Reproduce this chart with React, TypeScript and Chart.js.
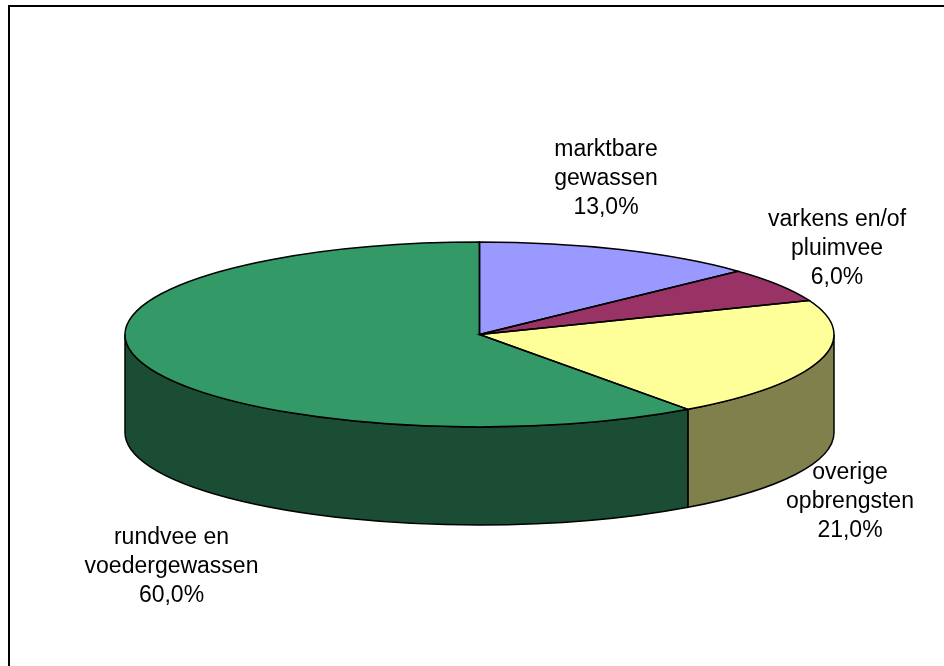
import React, { useEffect, useRef } from "react";
import { Chart, registerables } from "chart.js";

Chart.register(...registerables);

const categories = ["marktbare gewassen", "varkens en/of pluimvee", "overige opbrengsten", "rundvee en voedergewassen"];
const shares = [13.0, 6.0, 21.0, 60.0];
const topColors = ["#9999ff", "#993366", "#ffff99", "#339966"];
const sideColors = ["#4d4d80", "#4d1a33", "#80804d", "#1a4d33"];
const labelLines = [
  ["marktbare", "gewassen", "13,0%"],
  ["varkens en/of", "pluimvee", "6,0%"],
  ["overige", "opbrengsten", "21,0%"],
  ["rundvee en", "voedergewassen", "60,0%"],
];

const RX = 354.5;
const SQUASH = 92.5 / 354.5;
const DEPTH = 98;
const LABEL_ANCHORS = [
  { dx: 126.5, dy: -155.5 },
  { dx: 357.5, dy: -85.5 },
  { dx: 370.5, dy: 167.5 },
  { dx: -308, dy: 232.5 },
];
const LINE_H = 29;

const pie3d = {
  id: "pie3d",
  beforeDatasetsDraw(chart: any) {
    const ctx = chart.ctx;
    const arcs = chart.getDatasetMeta(0).data;
    const outline = () => {
      ctx.strokeStyle = "#000";
      ctx.lineWidth = 1.5;
      ctx.stroke();
    };
    // extruded side: only the front half (canvas angles 0..PI) is visible
    arcs.forEach((arc: any, i: number) => {
      const { x, y, startAngle, endAngle, outerRadius } = arc.getProps(["x", "y", "startAngle", "endAngle", "outerRadius"]);
      const ry = outerRadius * SQUASH;
      const two = Math.PI * 2;
      const spans: [number, number][] = [];
      for (const k of [-1, 0, 1]) {
        const a = Math.max(startAngle, k * two);
        const b = Math.min(endAngle, k * two + Math.PI);
        if (b > a) spans.push([a, b]);
      }
      spans.forEach(([a, b]) => {
        ctx.beginPath();
        ctx.ellipse(x, y, outerRadius, ry, 0, a, b);
        ctx.ellipse(x, y + DEPTH, outerRadius, ry, 0, b, a, true);
        ctx.closePath();
        ctx.fillStyle = sideColors[i];
        ctx.fill();
        outline();
      });
    });
    ctx.save();
    const c = arcs[0];
    ctx.translate(c.x, c.y);
    ctx.scale(1, SQUASH);
    ctx.translate(-c.x, -c.y);
  },
  afterDatasetsDraw(chart: any) {
    const ctx = chart.ctx;
    ctx.restore();
    const arcs = chart.getDatasetMeta(0).data;
    // outlines are stroked unscaled so the line width stays even
    arcs.forEach((arc: any) => {
      const { x, y, startAngle, endAngle, outerRadius } = arc.getProps(["x", "y", "startAngle", "endAngle", "outerRadius"]);
      ctx.beginPath();
      ctx.moveTo(x, y);
      ctx.ellipse(x, y, outerRadius, outerRadius * SQUASH, 0, startAngle, endAngle);
      ctx.closePath();
      ctx.strokeStyle = "#000";
      ctx.lineWidth = 1.5;
      ctx.stroke();
    });
    // data labels
    const c = arcs[0];
    ctx.save();
    ctx.fillStyle = "#000";
    ctx.font = '23px "Liberation Sans", Arial, sans-serif';
    ctx.textAlign = "center";
    ctx.textBaseline = "middle";
    labelLines.forEach((lines, i) => {
      lines.forEach((t, j) => {
        ctx.fillText(t, c.x + LABEL_ANCHORS[i].dx, c.y + LABEL_ANCHORS[i].dy + (j - 1) * LINE_H);
      });
    });
    ctx.restore();
  },
};

export default function App() {
  const ref = useRef<HTMLCanvasElement>(null);
  useEffect(() => {
    const chart = new Chart(ref.current as HTMLCanvasElement, {
      type: "pie",
      data: {
        labels: categories,
        datasets: [{ data: shares, backgroundColor: topColors, borderWidth: 0 }],
      },
      options: {
        responsive: false,
        animation: false,
        radius: RX,
        layout: { padding: { left: 15, top: 3 } },
        plugins: { legend: { display: false }, tooltip: { enabled: false }, title: { display: false } },
      } as any,
      plugins: [pie3d],
    });
    return () => chart.destroy();
  }, []);
  return (
    <div style={{ position: "fixed", inset: 0, background: "#fff", overflow: "hidden" }}>
      <canvas ref={ref} width={944} height={666} style={{ position: "absolute", left: 0, top: 0, width: 944, height: 666 }} />
      <div style={{ position: "absolute", left: 8, top: 5, right: 0, bottom: 0, borderLeft: "2px solid #000", borderTop: "2px solid #000", pointerEvents: "none" }} />
    </div>
  );
}
